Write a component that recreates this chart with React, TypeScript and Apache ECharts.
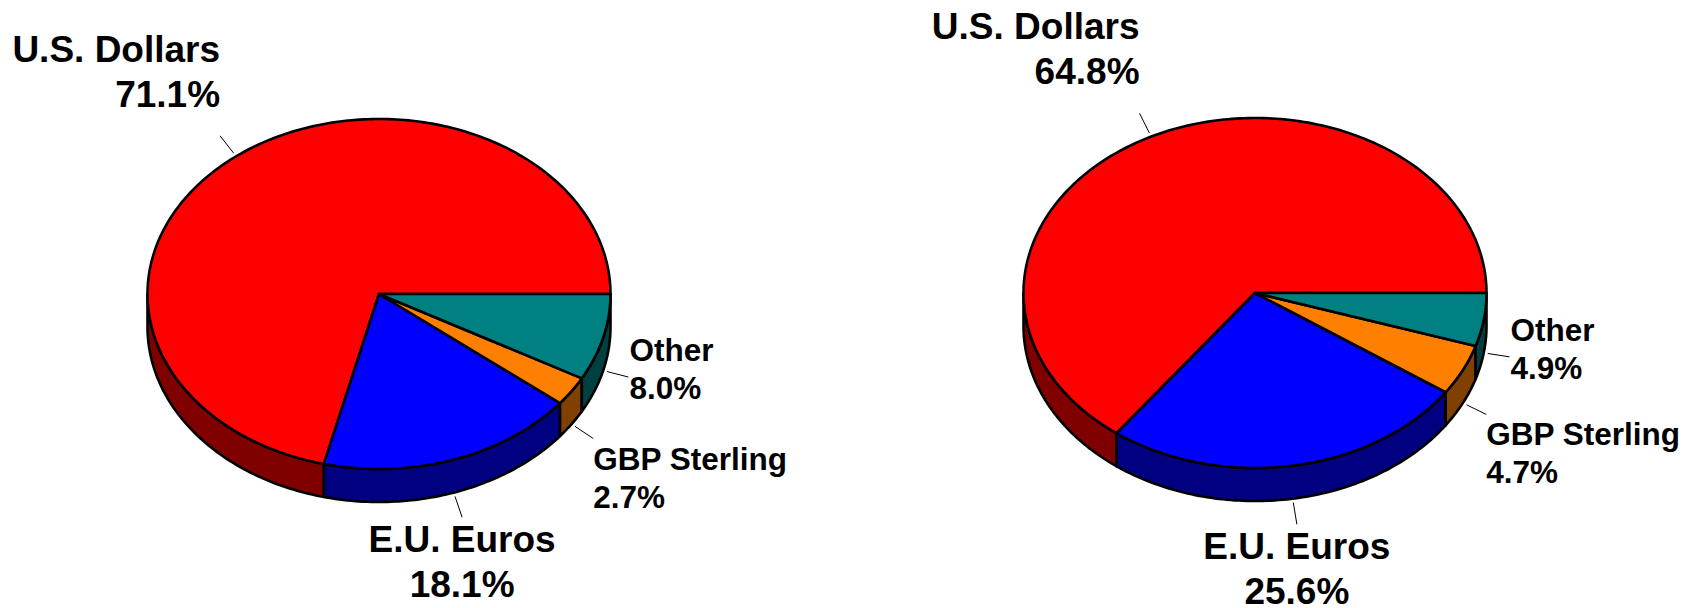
import { useEffect, useRef } from 'react';
import * as echarts from 'echarts';

// ---- data ----
const categories = ['U.S. Dollars', 'E.U. Euros', 'GBP Sterling', 'Other'];
const leftValues = [71.1, 18.1, 2.7, 8.0];
const rightValues = [64.8, 25.6, 4.7, 4.9];

// ---- styles ----
const topColors = ['#FF0000', '#0000FF', '#FF8000', '#008080'];
const sideColors = ['#800000', '#000080', '#804000', '#004040'];

// ---- layout (pixels in a 1684x608 canvas) ----
const PIE_LAYOUT = [
  { cx: 379, cy: 294 },
  { cx: 1255, cy: 293 },
];
const RX = 231.5;
const RY = 175;
const DEPTH = 33;
const LEADER_GAP = 4;
const LEADER_LEN = 26;
const EDGE_WIDTH = 2.6;
const FONT = '"Liberation Sans", Arial, Helvetica, sans-serif';

const LABEL_LAYOUT = [
  { size: 37, lh: 45, align: 'right', vAlign: 'bottom', dx: 0, dy: -19 },
  { size: 37, lh: 45, align: 'center', vAlign: 'top', dx: 0, dy: 0 },
  { size: 31.5, lh: 38, align: 'left', vAlign: 'top', dx: 0, dy: 1 },
  { size: 31.5, lh: 38, align: 'left', vAlign: 'middle', dx: 1, dy: -8 },
];

function buildData(values: number[]) {
  const total = values.reduce((a, b) => a + b, 0);
  let acc = 0;
  return values.map((v, i) => {
    const item = { name: categories[i], value: [v, acc, total] };
    acc += v;
    return item;
  });
}

function makeRenderItem(pieIndex: number) {
  return (params: any, api: any) => {
    const sx = api.getWidth() / 1684;
    const sy = api.getHeight() / 608;
    const { cx: pcx, cy: pcy } = PIE_LAYOUT[pieIndex];
    const cx = pcx * sx;
    const cy = pcy * sy;
    const v = api.value(0) as number;
    const before = api.value(1) as number;
    const total = api.value(2) as number;
    const idx = params.dataIndex as number;
    const a0 = (before / total) * 360;
    const a1 = ((before + v) / total) * 360;

    const pt = (deg: number, dz = 0) => {
      const r = (deg * Math.PI) / 180;
      return [cx + RX * sx * Math.cos(r), cy - RY * sy * Math.sin(r) + dz * sy];
    };
    const arc = (s: number, e: number, dz: number) => {
      const n = Math.max(2, Math.ceil(e - s));
      const pts: number[][] = [];
      for (let i = 0; i <= n; i++) pts.push(pt(s + ((e - s) * i) / n, dz));
      return pts;
    };

    const children: any[] = [];
    const s = Math.max(a0, 180);
    const e = Math.min(a1, 360);
    if (e > s) {
      const top = arc(s, e, 0);
      const bot = arc(s, e, DEPTH).reverse();
      children.push({
        type: 'polygon',
        shape: { points: top.concat(bot) },
        style: { fill: sideColors[idx], stroke: '#000', lineWidth: EDGE_WIDTH, lineJoin: 'round' },
      });
    }
    children.push({
      type: 'polygon',
      shape: { points: [[cx, cy]].concat(arc(a0, a1, 0)) },
      style: { fill: topColors[idx], stroke: '#000', lineWidth: EDGE_WIDTH, lineJoin: 'round' },
    });

    // leader line + label
    const mid = (a0 + a1) / 2;
    const rad = (mid * Math.PI) / 180;
    const dz = Math.sin(rad) < 0 ? DEPTH : 0;
    const [ax, ay] = pt(mid, dz);
    const ux = Math.cos(rad);
    const uy = -Math.sin(rad);
    const x1 = ax + ux * LEADER_GAP;
    const y1 = ay + uy * LEADER_GAP;
    const x2 = ax + ux * LEADER_LEN;
    const y2 = ay + uy * LEADER_LEN;
    children.push({
      type: 'line',
      shape: { x1, y1, x2, y2 },
      style: { stroke: '#000', lineWidth: 1 },
    });
    const L = LABEL_LAYOUT[idx];
    children.push({
      type: 'text',
      x: x2 + L.dx,
      y: y2 + L.dy,
      style: {
        text: `${categories[idx]}\n${v.toFixed(1)}%`,
        fill: '#000',
        fontSize: L.size,
        fontWeight: 'bold',
        fontFamily: FONT,
        align: L.align,
        verticalAlign: L.vAlign,
        lineHeight: L.lh,
      },
    });
    return { type: 'group', children };
  };
}

export default function App() {
  const ref = useRef<HTMLDivElement>(null);
  useEffect(() => {
    if (!ref.current) return;
    const chart = echarts.init(ref.current, undefined, { renderer: 'svg' });
    chart.setOption({
      animation: false,
      backgroundColor: '#ffffff',
      series: [
        {
          type: 'custom',
          coordinateSystem: 'none',
          silent: true,
          renderItem: makeRenderItem(0),
          data: buildData(leftValues),
        },
        {
          type: 'custom',
          coordinateSystem: 'none',
          silent: true,
          renderItem: makeRenderItem(1),
          data: buildData(rightValues),
        },
      ],
    });
    return () => chart.dispose();
  }, []);
  return (
    <div
      ref={ref}
      style={{ position: 'fixed', left: 0, top: 0, width: 1684, height: 608, background: '#fff' }}
    />
  );
}
